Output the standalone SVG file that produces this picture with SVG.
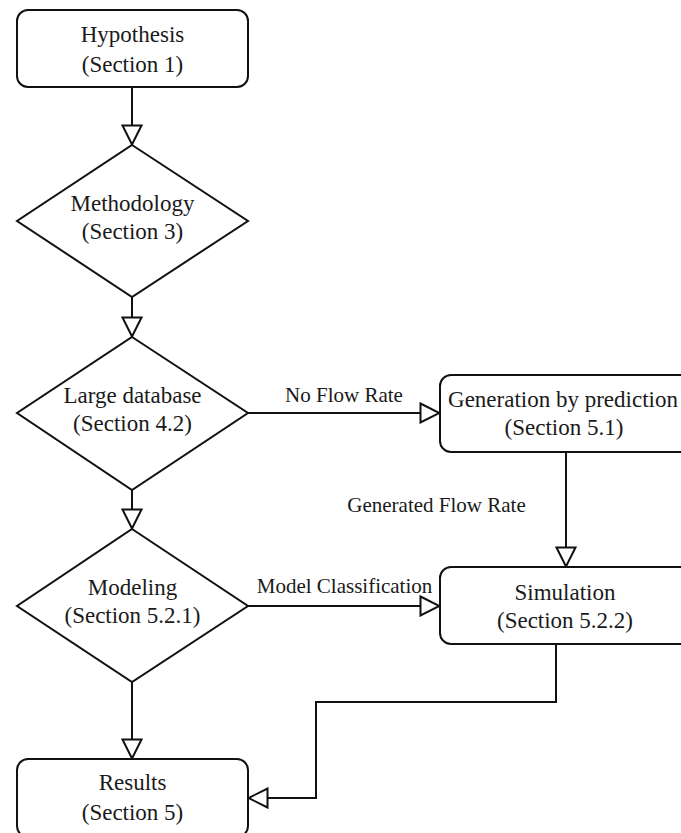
<svg xmlns="http://www.w3.org/2000/svg" width="681" height="833" viewBox="0 0 681 833">
<style>
.node{fill:#fff;stroke:#111;stroke-width:2}
.t{font-family:"Liberation Serif","Times New Roman",serif;font-size:23px;fill:#1a1a1a;text-anchor:middle}
.lbl{font-family:"Liberation Serif","Times New Roman",serif;font-size:21px;fill:#1a1a1a;text-anchor:middle}
.edge{fill:none;stroke:#111;stroke-width:2;marker-end:url(#arr)}
</style>
<defs>
<marker id="arr" viewBox="0 0 22 22" refX="21" refY="11" markerWidth="22" markerHeight="22" markerUnits="userSpaceOnUse" orient="auto">
<path d="M1.5,1.5 L20.5,11 L1.5,20.5 Z" fill="#fff" stroke="#111" stroke-width="2" stroke-linejoin="miter"/>
</marker>
</defs>
<rect width="681" height="833" fill="#fff"/>
<g id="connectors">
<path class="edge" d="M132,88 V145"/>
<path class="edge" d="M132,297 V337"/>
<path class="edge" d="M132,490 V529"/>
<path class="edge" d="M132,682 V759"/>
<path class="edge" d="M248,413 H440"/>
<path class="edge" d="M566,452 V567"/>
<path class="edge" d="M248,606 H440"/>
<path class="edge" d="M556,644 V702 H316 V798 H248"/>
<text class="lbl" x="344" y="402">No Flow Rate</text>
<text class="lbl" x="436.5" y="512">Generated Flow Rate</text>
<text class="lbl" x="344.5" y="593">Model Classification</text>
</g>
<g id="hypothesis">
<rect class="node" x="17" y="10" width="231" height="77" rx="11"/>
<text class="t" x="132.5" y="42">Hypothesis</text>
<text class="t" x="132.5" y="72">(Section 1)</text>
</g>
<g id="methodology">
<polygon class="node" points="132,145 248,221 132,297 17,221"/>
<text class="t" x="132.5" y="211">Methodology</text>
<text class="t" x="132.5" y="239">(Section 3)</text>
</g>
<g id="large-database">
<polygon class="node" points="132,337 248,413 132,490 17,413"/>
<text class="t" x="132.5" y="403">Large database</text>
<text class="t" x="132.5" y="431">(Section 4.2)</text>
</g>
<g id="modeling">
<polygon class="node" points="132,529 248,606 132,682 17,606"/>
<text class="t" x="132.5" y="595">Modeling</text>
<text class="t" x="132.5" y="623">(Section 5.2.1)</text>
</g>
<g id="generation">
<rect class="node" x="440" y="375" width="252" height="77" rx="11"/>
<text class="t" x="563" y="407">Generation by prediction</text>
<text class="t" x="564" y="435">(Section 5.1)</text>
</g>
<g id="simulation">
<rect class="node" x="440" y="567" width="252" height="77" rx="11"/>
<text class="t" x="565" y="600">Simulation</text>
<text class="t" x="565" y="628">(Section 5.2.2)</text>
</g>
<g id="results">
<rect class="node" x="17" y="759" width="231" height="78" rx="11"/>
<text class="t" x="132.5" y="790">Results</text>
<text class="t" x="132.5" y="820">(Section 5)</text>
</g>
</svg>
